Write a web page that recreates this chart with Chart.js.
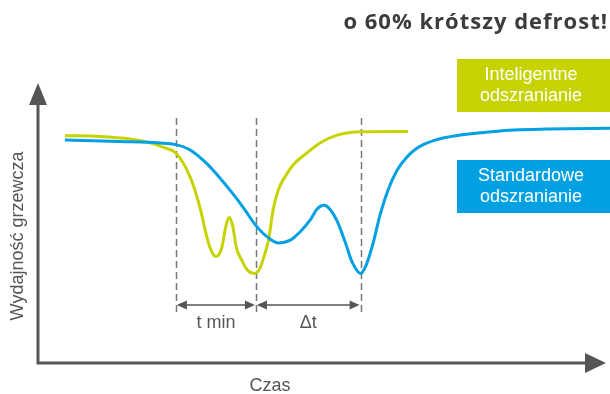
<!DOCTYPE html>
<html lang="pl">
<head>
<meta charset="utf-8">
<script src="https://cdn.jsdelivr.net/npm/chart.js@4"></script>
<style>
  html, body { margin: 0; padding: 0; background: #fff; }
  #wrap { width: 610px; height: 394px; }
</style>
</head>
<body>
<div id="wrap"><canvas id="myChart" width="610" height="394"></canvas></div>
<script>
const czasInteligentne = [4.7, 10.8, 16.1, 19.6, 22.2, 24.1, 26.6, 28.3, 29.5, 30.1, 31.1, 32.1, 32.9, 33.4, 34.0, 34.7, 35.6, 36.6, 37.8, 38.8, 39.5, 40.3, 41.1, 42.0, 43.2, 44.6, 47.0, 49.3, 52.3, 56.5, 64.7]
const wydajnoscInteligentne = [81.2, 80.9, 80.0, 78.6, 76.8, 75.0, 66.4, 55.7, 45.1, 41.0, 38.0, 41.0, 49.3, 52.0, 49.3, 41.0, 36.8, 33.2, 32.0, 33.8, 38.0, 43.9, 54.6, 61.8, 66.5, 70.7, 75.0, 78.6, 81.4, 82.6, 82.7]

const czasStandardowe = [4.7, 14.3, 21.3, 24.1, 26.6, 29.2, 31.8, 34.4, 36.2, 37.9, 39.7, 42.0, 44.1, 45.8, 47.6, 48.8, 50.0, 51.0, 52.3, 53.7, 54.9, 56.4, 57.3, 58.6, 59.8, 61.2, 62.8, 64.5, 66.3, 69.4, 73.8, 80.8, 89.5, 100]
const wydajnoscStandardowe = [79.6, 79.1, 78.6, 78.0, 76.1, 71.8, 66.1, 59.6, 54.6, 49.6, 45.7, 42.9, 43.9, 46.8, 51.1, 55.0, 56.3, 55.0, 50.7, 43.2, 36.1, 32.0, 34.6, 42.9, 52.9, 61.8, 68.9, 73.6, 76.8, 79.6, 81.4, 82.9, 83.6, 83.8]

// pionowe znaczniki: start, minimum inteligentnego, minimum standardowego
const znaczniki = [24.1, 38.1, 56.4]
const etykietyOdcinkow = ['t min', 'Δt']

const tytul = 'o 60% krótszy defrost!'
const osX = 'Czas'
const osY = 'Wydajność grzewcza'
const serie = [
  ['Inteligentne', 'odszranianie'],
  ['Standardowe', 'odszranianie']
]

const zielony = '#c6d300'
const niebieski = '#00a0e2'
const szary = '#555555'

const punkty = (xs, ys) => xs.map((x, i) => ({ x, y: ys[i] }))

function grot(ctx, x, y, dx, dy, dl, sz) {
  // trójkątny grot skierowany w stronę (dx, dy)
  const px = -dy, py = dx
  ctx.beginPath()
  ctx.moveTo(x, y)
  ctx.lineTo(x - dx * dl + px * sz, y - dy * dl + py * sz)
  ctx.lineTo(x - dx * dl - px * sz, y - dy * dl - py * sz)
  ctx.closePath()
  ctx.fill()
}

const schemat = {
  id: 'schemat',
  beforeDatasetsDraw(chart) {
    const { ctx } = chart
    const sx = chart.scales.x, sy = chart.scales.y
    ctx.save()
    // przerywane linie pionowe
    ctx.strokeStyle = '#777'
    ctx.lineWidth = 1.5
    ctx.setLineDash([7, 4])
    znaczniki.forEach(m => {
      const x = Math.round(sx.getPixelForValue(m)) + 0.5
      ctx.beginPath()
      ctx.moveTo(x, sy.getPixelForValue(87.5))
      ctx.lineTo(x, sy.getPixelForValue(16.8))
      ctx.stroke()
    })
    ctx.setLineDash([])
    // odcinki t min i Δt
    const yA = sy.getPixelForValue(20.7)
    ctx.strokeStyle = szary
    ctx.fillStyle = szary
    ctx.font = '18px "Liberation Sans", Arial, sans-serif'
    ctx.textAlign = 'center'
    ctx.textBaseline = 'middle'
    for (let i = 0; i < 2; i++) {
      const x1 = sx.getPixelForValue(znaczniki[i]) + 1
      const x2 = sx.getPixelForValue(znaczniki[i + 1]) - 1
      ctx.beginPath()
      ctx.moveTo(x1 + 5, yA)
      ctx.lineTo(x2 - 5, yA)
      ctx.stroke()
      grot(ctx, x1, yA, -1, 0, 10, 4.5)
      grot(ctx, x2, yA, 1, 0, 10, 4.5)
      ctx.fillText(etykietyOdcinkow[i], (x1 + x2) / 2, sy.getPixelForValue(14.3))
    }
    ctx.restore()
  },
  afterDraw(chart) {
    const { ctx, chartArea: a } = chart
    ctx.save()
    // osie ze strzałkami
    ctx.strokeStyle = szary
    ctx.fillStyle = szary
    ctx.lineWidth = 3
    ctx.beginPath()
    ctx.moveTo(a.left, a.top + 20)
    ctx.lineTo(a.left, a.bottom)
    ctx.lineTo(a.right - 24, a.bottom)
    ctx.stroke()
    grot(ctx, a.left, a.top, 0, -1, 22, 9)
    grot(ctx, a.right - 4, a.bottom, 1, 0, 21, 10)

    ctx.font = '18px "Liberation Sans", Arial, sans-serif'
    ctx.textAlign = 'center'
    ctx.textBaseline = 'middle'
    ctx.fillText(osX, 270, a.bottom + 23)
    ctx.save()
    ctx.translate(18, 236)
    ctx.rotate(-Math.PI / 2)
    ctx.fillText(osY, 0, 0)
    ctx.restore()

    // opisy serii w kolorowych prostokątach
    const boxy = [[59, 53, zielony], [160, 53, niebieski]]
    boxy.forEach(([top, h, kolor], i) => {
      ctx.fillStyle = kolor
      ctx.fillRect(457, top, 153, h)
      ctx.fillStyle = '#fff'
      ctx.fillText(serie[i][0], 531, top + h / 2 - 10)
      ctx.fillText(serie[i][1], 531, top + h / 2 + 11)
    })

    // nagłówek
    ctx.fillStyle = '#3c3c3c'
    ctx.font = 'bold 22px "Open Sans", sans-serif'
    ctx.letterSpacing = '1px'
    ctx.textAlign = 'right'
    ctx.textBaseline = 'alphabetic'
    ctx.fillText(tytul, 608, 29)
    ctx.restore()
  }
}

new Chart(document.getElementById('myChart'), {
  type: 'line',
  data: {
    datasets: [
      {
        label: serie[1].join(' '),
        data: punkty(czasStandardowe, wydajnoscStandardowe),
        borderColor: niebieski,
        borderWidth: 3,
        pointRadius: 0,
        cubicInterpolationMode: 'monotone'
      },
      {
        label: serie[0].join(' '),
        data: punkty(czasInteligentne, wydajnoscInteligentne),
        borderColor: zielony,
        borderWidth: 3,
        pointRadius: 0,
        cubicInterpolationMode: 'monotone'
      }
    ]
  },
  options: {
    responsive: false,
    animation: false,
    events: [],
    layout: { padding: { left: 38, right: 0, top: 83, bottom: 31 } },
    scales: {
      x: { type: 'linear', min: 0, max: 100, display: false },
      y: { min: 0, max: 100, display: false }
    },
    plugins: {
      legend: { display: false },
      tooltip: { enabled: false }
    }
  },
  plugins: [schemat]
})
</script>
</body>
</html>
